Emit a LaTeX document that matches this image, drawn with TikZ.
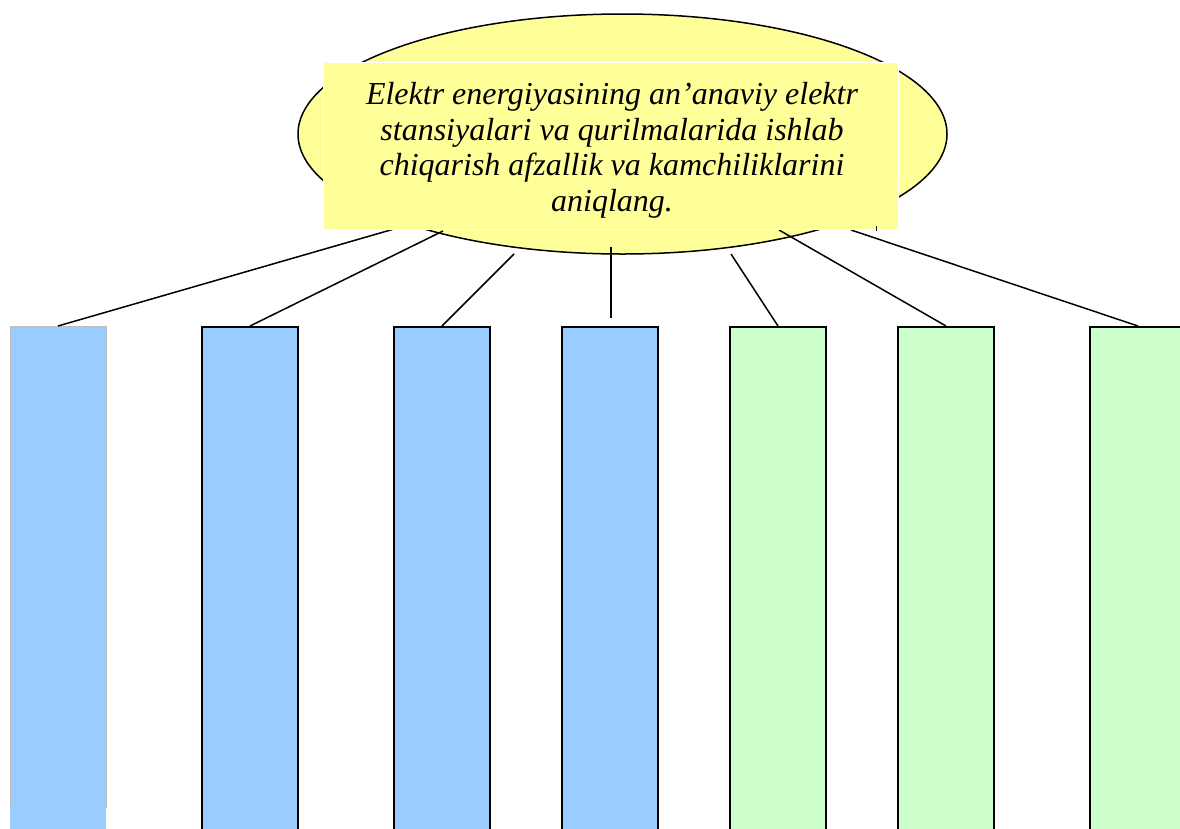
\documentclass[tikz,border=0pt]{standalone}
\usepackage{fontspec}
\setmainfont{Liberation Serif}
\usetikzlibrary{shapes.geometric}
\definecolor{ybg}{HTML}{FFFF99}
\definecolor{bluebox}{HTML}{99CCFF}
\definecolor{greenbox}{HTML}{CCFFCC}
\tikzset{
  conn/.style={draw=black, line width=1.5pt},
  colbox/.style={draw=black, line width=1.8pt, minimum width=96pt, minimum height=600pt, anchor=north, inner sep=0pt},
}
\begin{document}
\begin{tikzpicture}[x=1pt,y=-1pt]
\useasboundingbox (0,0) rectangle (1180,828);
\clip (0,0) rectangle (1180,828);
% ellipse
\node[ellipse, draw=black, line width=1.5pt, fill=ybg, minimum width=649pt, minimum height=240pt, inner sep=0pt] (e) at (622.5,134) {};
% columns
\node[colbox, fill=bluebox, draw=none] (b1) at (58,326) {};
\draw[draw=black!25, line width=1pt] (10,808) -- (10,326) -- (106,326) -- (106,808);
\node[colbox, fill=bluebox] (b2) at (250,326) {};
\node[colbox, fill=bluebox] (b3) at (442,326) {};
\node[colbox, fill=bluebox] (b4) at (610,326) {};
\node[colbox, fill=greenbox] (b5) at (778,326) {};
\node[colbox, fill=greenbox] (b6) at (946,326) {};
\node[colbox, fill=greenbox] (b7) at (1138,326) {};
% connector start points
\coordinate (s1) at (394,229);
\coordinate (s2) at (443,231);
\coordinate (s3) at (514,254);
\coordinate (s4) at (611,247);
\coordinate (e4) at (611,318);
\coordinate (s5) at (731,254);
\coordinate (s6) at (779,230);
\coordinate (s7) at (851,230);
\draw[conn] (s1) -- (b1.north);
\draw[conn] (s2) -- (b2.north);
\draw[conn] (s3) -- (b3.north);
\draw[conn] (s4) -- (e4);
\draw[conn] (s5) -- (b5.north);
\draw[conn] (s6) -- (b6.north);
\draw[conn] (s7) -- (b7.north);
% text box
\node[draw=white, line width=1pt, fill=ybg, minimum width=575pt, minimum height=167pt, inner sep=0pt] (t) at (610.5,145.5) {};
\node[align=center, inner sep=0pt, font=\fontsize{32}{35.5}\selectfont\itshape] (tx) at (612,150.5)
  {Elektr energiyasining an’anaviy elektr\\ stansiyalari va qurilmalarida ishlab\\ chiqarish afzallik va kamchiliklarini\\ aniqlang.};
\coordinate (m1) at (876,226);
\coordinate (m2) at (876,231);
\draw[line width=0.8pt] (m1) -- (m2);
\end{tikzpicture}
\end{document}
